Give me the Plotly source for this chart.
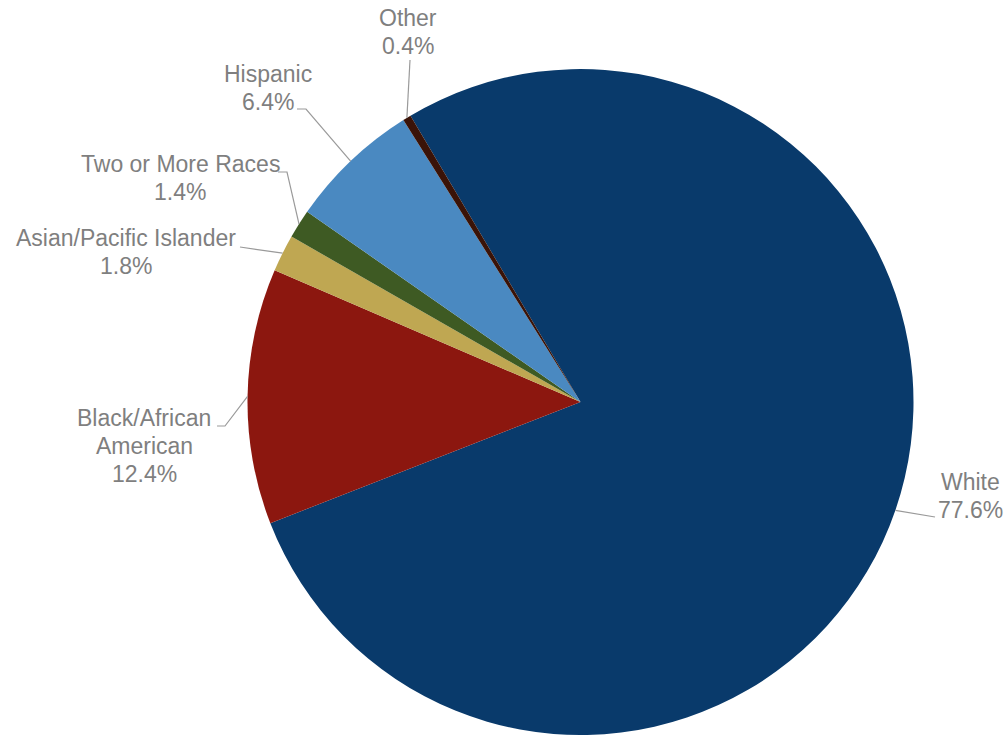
import math
import plotly.graph_objects as go

# ---- data ----
categories = ["White", "Black/African American", "Asian/Pacific Islander",
              "Two or More Races", "Hispanic", "Other"]
shares = [77.6, 12.4, 1.8, 1.4, 6.4, 0.4]
label_lines = [["White", "77.6%"], ["Black/African", "American", "12.4%"],
               ["Asian/Pacific Islander", "1.8%"], ["Two or More Races", "1.4%"],
               ["Hispanic", "6.4%"], ["Other", "0.4%"]]

# ---- style / layout ----
colors = ["#093A6B", "#8C170F", "#BFA752", "#3E5A23", "#4A89C1", "#3A1308"]
W, H = 1004, 735
CX, CY, R = 580.5, 402.0, 333.0          # pie centre / radius in pixels
ROTATION = 329.3                          # start angle of first slice (clockwise from 12 o'clock)
TEXT_COLOR = "#7F7F7F"
LINE_COLOR = "#9A9A9A"
FONT = "Liberation Sans, Arial, sans-serif"
FONT_SIZE = 23
LINE_GAP = 28

# label block centres (pixels) and leader-line starting points (pixels)
label_pos = {
    "White": (970, 496),
    "Black/African American": (144, 446),
    "Asian/Pacific Islander": (126, 252),
    "Two or More Races": (180, 178),
    "Hispanic": (268, 88),
    "Other": (408, 32),
}
leader_start = {
    "White": [(935, 517)],
    "Black/African American": [(217, 426), (225, 426)],
    "Asian/Pacific Islander": [(240, 247)],
    "Two or More Races": [(278, 172), (287, 172)],
    "Hispanic": [(297, 109), (306, 109)],
    "Other": [(410, 60)],
}


def px(x, y):
    return x / W, 1 - y / H


fig = go.Figure(go.Pie(
    labels=categories, values=shares, sort=False, direction="clockwise",
    rotation=ROTATION, textinfo="none", hoverinfo="label+percent",
    marker=dict(colors=colors, line=dict(width=0)),
    domain=dict(x=[(CX - (W - CX)) / W, 1], y=[0, 2 * R / H]),
    showlegend=False,
))

annotations, shapes = [], []
total = sum(shares)
cum = 0.0
for cat, val, lines in zip(categories, shares, label_lines):
    mid = math.radians(ROTATION + (cum + val / 2) / total * 360)
    cum += val
    ex, ey = CX + R * math.sin(mid), CY - R * math.cos(mid)
    lx, ly = label_pos[cat]
    n = len(lines)
    for i, line in enumerate(lines):
        yy = ly + (i - (n - 1) / 2) * LINE_GAP
        ax_, ay_ = px(lx, yy)
        annotations.append(dict(x=ax_, y=ay_, xref="paper", yref="paper", text=line,
                                showarrow=False, xanchor="center", yanchor="middle",
                                font=dict(family=FONT, size=FONT_SIZE, color=TEXT_COLOR)))
    pts = leader_start[cat] + [(ex, ey)]
    path = "M " + " L ".join("{:.5f},{:.5f}".format(*px(x, y)) for x, y in pts)
    shapes.append(dict(type="path", path=path, xref="paper", yref="paper",
                       line=dict(color=LINE_COLOR, width=1.2)))

fig.update_layout(
    width=W, height=H, margin=dict(l=0, r=0, t=0, b=0),
    paper_bgcolor="white", plot_bgcolor="white",
    annotations=annotations, shapes=shapes,
)

fig.write_html("out.html")
